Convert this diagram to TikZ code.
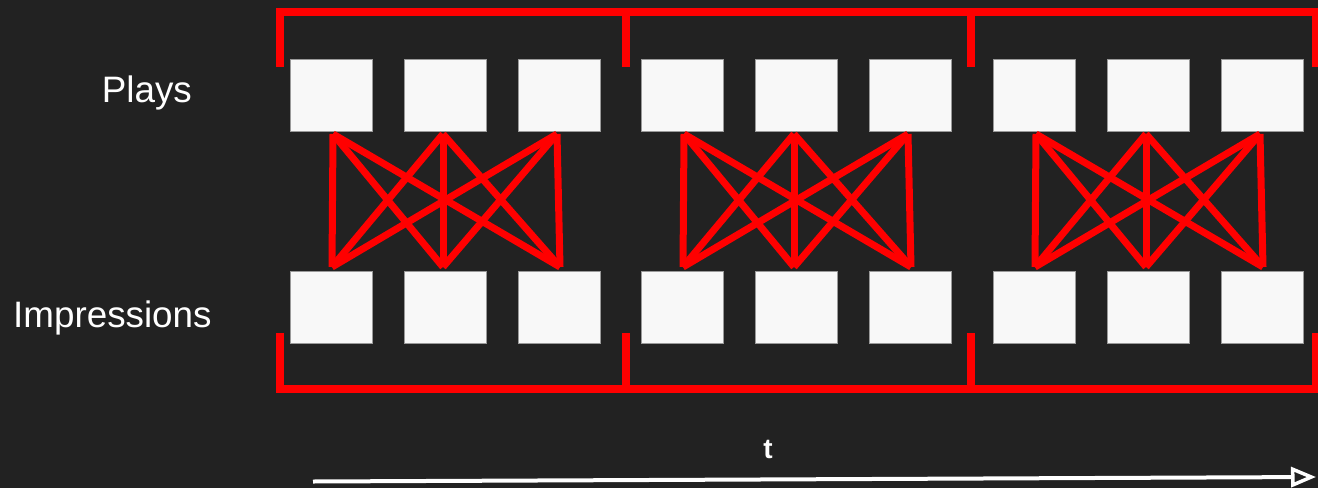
\documentclass[tikz,border=0pt]{standalone}
\usepackage{fontspec}
\setmainfont{Liberation Sans}
\usetikzlibrary{arrows.meta}
\definecolor{bg}{HTML}{222222}
\definecolor{boxfill}{HTML}{F8F8F8}
\definecolor{boxline}{HTML}{9A9A9A}
\definecolor{redline}{HTML}{FF0000}
\definecolor{txt}{HTML}{FFFFFF}
\begin{document}
\begin{tikzpicture}[x=1pt,y=-1pt,
  cell/.style={draw=boxline, line width=1pt, fill=boxfill, minimum width=82pt, minimum height=72pt, inner sep=0pt},
  link/.style={draw=redline, line width=7pt},
  bracket/.style={draw=redline, line width=8pt},
  label/.style={text=txt, inner sep=0pt, font=\fontsize{36.8}{40}\selectfont},
  axis/.style={draw=txt, line width=4pt, -{Triangle[open, length=25pt, width=20pt, line width=3.5pt]}}]
\path[fill=bg] (0,0) rectangle (1318,488);
\useasboundingbox (0,0) rectangle (1318,488);

% labels
\node[label, anchor=base west] (lab-plays) at (101.7,102.7) {Plays};
\node[label, anchor=base west] (lab-imp) at (13,327.7) {Impressions};
\node[label, anchor=base, font=\fontsize{28}{30}\selectfont\bfseries] (lab-t) at (768,458) {t};

% brackets
\draw[bracket] (279.5,67) -- (279.5,11.5) -- (1316,11.5) -- (1316,67);
\draw[bracket] (625.5,11.5) -- (625.5,67);
\draw[bracket] (971,11.5) -- (971,67);
\draw[bracket] (279.5,333) -- (279.5,388.5) -- (1316,388.5) -- (1316,333);
\draw[bracket] (625.5,388.5) -- (625.5,333);
\draw[bracket] (971,388.5) -- (971,333);

% boxes and links
\foreach \g/\gx in {1/290,2/641,3/993}{
  \foreach \i in {0,1,2}{
    \pgfmathsetmacro\cx{\gx+41.5+114*\i}
    \node[cell] (p-\g-\i) at (\cx,95.8) {};
    \node[cell] (m-\g-\i) at (\cx,307) {};
  }
  \coordinate (pt-\g-0) at (\gx+43,134);
  \coordinate (pt-\g-1) at (\gx+153,134);
  \coordinate (pt-\g-2) at (\gx+267,134);
  \coordinate (pb-\g-0) at (\gx+42,267);
  \coordinate (pb-\g-1) at (\gx+153,267);
  \coordinate (pb-\g-2) at (\gx+270,267);
  \foreach \i in {0,1,2}{
    \foreach \j in {0,1,2}{
      \draw[link] (pt-\g-\i) -- (pb-\g-\j);
    }
  }
}

% time axis
\coordinate (a0) at (313,481.5);
\coordinate (a1) at (1316,477);
\draw[axis] (a0) -- (a1);
\end{tikzpicture}
\end{document}
